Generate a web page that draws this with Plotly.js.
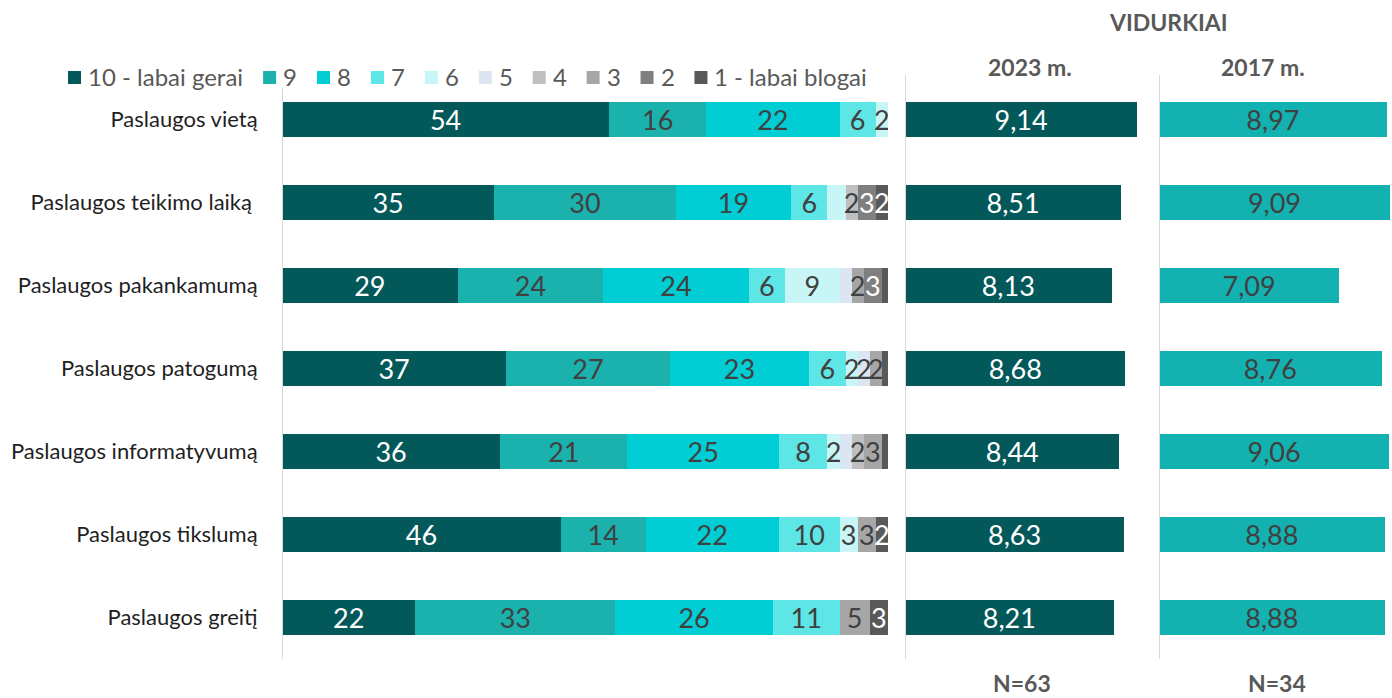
<!DOCTYPE html>
<html>
<head>
<meta charset="utf-8">
<script src="https://cdn.plot.ly/plotly-3.0.1.min.js"></script>
<style>
html,body{margin:0;padding:0;background:#fff;}
#chart{width:1392px;height:698px;}
</style>
</head>
<body>
<div id="chart"></div>
<script>
const categories = ['Paslaugos vietą','Paslaugos teikimo laiką\u00a0','Paslaugos pakankamumą','Paslaugos patogumą','Paslaugos informatyvumą','Paslaugos tikslumą','Paslaugos greitį'];
const seriesNames = ['10 - labai gerai','9','8','7','6','5','4','3','2','1 - labai blogai'];
const s10 = [54,35,29,37,36,46,22];
const s9  = [16,30,24,27,21,14,33];
const s8  = [22,19,24,23,25,22,26];
const s7  = [6,6,6,6,8,10,11];
const s6  = [2,3,9,2,2,3,0];
const s5  = [0,0,2,2,2,0,0];
const s4  = [0,2,0,0,2,0,0];
const s3  = [0,0,2,2,3,3,5];
const s2  = [0,3,3,0,0,0,0];
const s1  = [0,2,1,1,1,2,3];
const mean2023 = [9.14,8.51,8.13,8.68,8.44,8.63,8.21];
const mean2017 = [8.97,9.09,7.09,8.76,9.06,8.88,8.88];
const headerTitle = 'VIDURKIAI';
const panelTitles = ['2023 m.','2017 m.'];
const sampleSizes = ['N=63','N=34'];
// data labels not displayed in the reference (series index -> row indices)
const hiddenLabels = {4:[1], 5:[2,4], 9:[2,3,4]};

const seriesValues = [s10,s9,s8,s7,s6,s5,s4,s3,s2,s1];
const colors = ['#03585A','#1BB2AD','#00CED4','#5EE5E5','#C8F5F5','#DCE6F2','#BFBFBF','#A6A6A6','#7F7F7F','#595959'];
const textColors = ['#FFFFFF','#404040','#404040','#404040','#404040','#404040','#404040','#404040','#FFFFFF','#FFFFFF'];
const FONT = 'Lato, "Open Sans", sans-serif';

const W = 1392, TOP = 78, BOTTOM = 659, PH = BOTTOM - TOP;
const py = y => (BOTTOM - y) / PH;

const traces = [];
seriesValues.forEach((vals, i) => {
  const hid = hiddenLabels[i] || [];
  traces.push({
    type:'bar', orientation:'h', name: seriesNames[i],
    x: vals, y: categories, xaxis:'x', yaxis:'y',
    marker:{color: colors[i], line:{width:0}},
    text: vals.map((v, r) => (v > 0 && hid.indexOf(r) < 0) ? String(v) : ''),
    textposition:'inside', insidetextanchor:'middle', textangle:0,
    textfont:{family: FONT, size: 27, color: textColors[i]},
    hoverinfo:'skip', showlegend:false
  });
});
traces.push({
  type:'bar', orientation:'h', x: mean2023, y: categories, xaxis:'x2', yaxis:'y',
  marker:{color:'#03585A'}, showlegend:false,
  texttemplate:'%{x:.2f}', textposition:'inside', insidetextanchor:'middle', textangle:0,
  textfont:{family: FONT, size: 27, color:'#FFFFFF'}, hoverinfo:'skip'
});
traces.push({
  type:'bar', orientation:'h', x: mean2017, y: categories, xaxis:'x3', yaxis:'y',
  marker:{color:'#13B2B0'}, showlegend:false,
  texttemplate:'%{x:.2f}', textposition:'inside', insidetextanchor:'middle', textangle:0,
  textfont:{family: FONT, size: 27, color:'#404040'}, hoverinfo:'skip'
});

// legend drawn as squares + texts, laid out from measured text widths
const shapes = [
  {type:'line', xref:'x', yref:'paper', x0:0, x1:0, y0:0, y1:py(88), line:{color:'#D9D9D9', width:2}},
  {type:'line', xref:'x2', yref:'paper', x0:0, x1:0, y0:0, y1:py(75), line:{color:'#D9D9D9', width:2}},
  {type:'line', xref:'x3', yref:'paper', x0:0, x1:0, y0:0, y1:py(75), line:{color:'#D9D9D9', width:2}}
];
const annotations = [];
const ctx = document.createElement('canvas').getContext('2d');
ctx.font = '24px Lato';
let lx = 68;
const LY = 77;
seriesNames.forEach((n, i) => {
  shapes.push({type:'rect', xref:'paper', yref:'paper', x0: lx/W, x1: (lx+13)/W, y0: py(LY+7), y1: py(LY-6),
               fillcolor: colors[i], line:{width:0}});
  annotations.push({text: n, xref:'paper', yref:'paper', x: (lx+18)/W, y: py(LY), xanchor:'left', yanchor:'middle',
                    showarrow:false, font:{family:FONT, size:24, color:'#595959'}});
  lx += 20 + ctx.measureText(n).width + 20;
});

const hdr = (t, x, y) => ({text:'<b>'+t+'</b>', xref:'paper', yref:'paper', x: x/W, y: py(y), xanchor:'center', yanchor:'middle',
  showarrow:false, font:{family:FONT, size:23, color:'#595959'}});
annotations.push(hdr(headerTitle, 1168, 22));
annotations.push(hdr(panelTitles[0], 1030, 67));
annotations.push(hdr(panelTitles[1], 1263, 67));
annotations.push(hdr(sampleSizes[0], 1022, 683));
annotations.push(hdr(sampleSizes[1], 1277, 683));

const hidden = {showgrid:false, zeroline:false, showticklabels:false, showline:false, ticks:''};
const layout = {
  width: 1392, height: 698,
  margin:{l:0, r:0, t:TOP, b:698-BOTTOM},
  paper_bgcolor:'#fff', plot_bgcolor:'rgba(0,0,0,0)',
  barmode:'stack', bargap:0.59,
  separators:', ',
  uniformtext:{minsize:27, mode:'show'},
  font:{family: FONT, color:'#595959'},
  showlegend:false,
  xaxis: Object.assign({domain:[282/W, 888/W], range:[0,100]}, hidden),
  xaxis2: Object.assign({domain:[905/W, 1150/W], range:[0, 245/25.4], anchor:'y'}, hidden),
  xaxis3: Object.assign({domain:[1159/W, 1], range:[0, 233/25.4], anchor:'y'}, hidden),
  yaxis:{type:'category', autorange:'reversed', showgrid:false, zeroline:false, showline:false,
         ticks:'outside', ticklen:19, tickcolor:'rgba(0,0,0,0)',
         tickfont:{family: FONT, size:22, color:'#1F1F1F'}},
  shapes: shapes,
  annotations: annotations
};
Plotly.newPlot('chart', traces, layout, {staticPlot:true, displayModeBar:false});
</script>
</body>
</html>
